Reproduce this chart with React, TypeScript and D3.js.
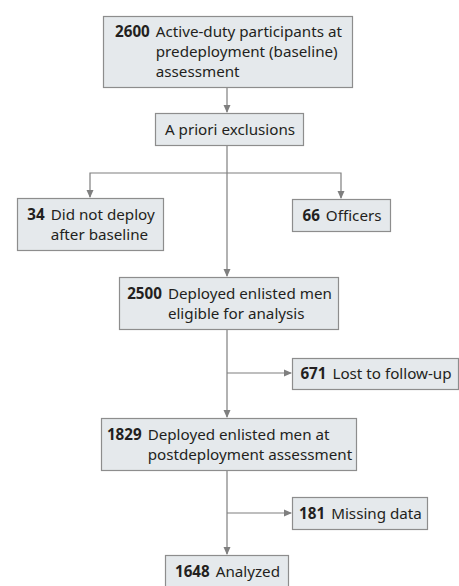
import React, { useEffect, useRef } from "react";
import * as d3 from "d3";

// ---- Data (flow counts and labels) ----
const nodeIds = ["baseline", "exclusions", "noDeploy", "officers", "eligible", "lost", "post", "missing", "analyzed"];
const nodeCounts: (number | null)[] = [2600, null, 34, 66, 2500, 671, 1829, 181, 1648];
const nodeLabels: string[][] = [
  ["Active-duty participants at", "predeployment (baseline)", "assessment"],
  ["A priori exclusions"],
  ["Did not deploy", "after baseline"],
  ["Officers"],
  ["Deployed enlisted men", "eligible for analysis"],
  ["Lost to follow-up"],
  ["Deployed enlisted men at", "postdeployment assessment"],
  ["Missing data"],
  ["Analyzed"],
];

// ---- Layout (positions / sizes) ----
const W = 459;
const H = 586;
const boxes: Record<string, { x: number; y: number; w: number; h: number }> = {
  baseline: { x: 103, y: 16, w: 249, h: 71 },
  exclusions: { x: 155, y: 113, w: 148, h: 32 },
  noDeploy: { x: 17, y: 198, w: 146, h: 52 },
  officers: { x: 292, y: 199, w: 98, h: 32 },
  eligible: { x: 119, y: 277, w: 219, h: 52 },
  lost: { x: 292, y: 358, w: 166, h: 31 },
  post: { x: 101, y: 418, w: 255, h: 52 },
  missing: { x: 292, y: 497, w: 135, h: 32 },
  analyzed: { x: 165, y: 555, w: 123, h: 32 },
};
const spineX = 227;
const branchY1 = 173;
const branchY2 = 373;
const branchY3 = 513;

const FILL = "#e5e9ec";
const STROKE = "#8d8d8d";
const LINE = "#7f7f7f";
const TEXT = "#231f20";
const FONT = "'Noto Sans', sans-serif";
const FS = 15.2;
const LH = 20;

export default function App() {
  const ref = useRef<SVGSVGElement | null>(null);

  useEffect(() => {
    const svg = d3.select(ref.current);
    svg.selectAll("*").remove();

    const lines = svg.append("g").attr("stroke", LINE).attr("stroke-width", 1.2).attr("fill", "none");
    const heads = svg.append("g").attr("fill", LINE);
    const arrowHead = (x: number, y: number, dir: "down" | "right") => {
      const L = 8, hw = 3.5;
      const pts =
        dir === "down"
          ? [[x, y], [x - hw, y - L], [x + hw, y - L]]
          : [[x, y], [x - L, y - hw], [x - L, y + hw]];
      heads.append("path").attr("d", d3.line()(pts as [number, number][]) + "Z");
    };
    const seg = (pts: [number, number][]) => lines.append("path").attr("d", d3.line()(pts));

    const b = boxes;
    const bottom = (k: string) => b[k].y + b[k].h;
    const cx = (k: string) => b[k].x + b[k].w / 2;

    // main spine
    seg([[spineX, bottom("baseline")], [spineX, b.exclusions.y - 1]]);
    arrowHead(spineX, b.exclusions.y, "down");
    seg([[spineX, bottom("exclusions")], [spineX, b.eligible.y - 1]]);
    arrowHead(spineX, b.eligible.y, "down");
    seg([[spineX, bottom("eligible")], [spineX, b.post.y - 1]]);
    arrowHead(spineX, b.post.y, "down");
    seg([[spineX, bottom("post")], [spineX, b.analyzed.y - 1]]);
    arrowHead(spineX, b.analyzed.y, "down");

    // exclusion branch
    seg([[cx("noDeploy"), b.noDeploy.y - 1], [cx("noDeploy"), branchY1], [cx("officers"), branchY1], [cx("officers"), b.officers.y - 1]]);
    arrowHead(cx("noDeploy"), b.noDeploy.y, "down");
    arrowHead(cx("officers"), b.officers.y, "down");

    // side branches
    seg([[spineX, branchY2], [b.lost.x - 1, branchY2]]);
    arrowHead(b.lost.x, branchY2, "right");
    seg([[spineX, branchY3], [b.missing.x - 1, branchY3]]);
    arrowHead(b.missing.x, branchY3, "right");

    // boxes
    nodeIds.forEach((id, i) => {
      const bx = b[id];
      const g = svg.append("g");
      g.append("rect")
        .attr("x", bx.x + 0.5)
        .attr("y", bx.y + 0.5)
        .attr("width", bx.w)
        .attr("height", bx.h)
        .attr("fill", FILL)
        .attr("stroke", STROKE)
        .attr("stroke-width", 1.2);

      const count = nodeCounts[i];
      const labs = nodeLabels[i];
      const n = labs.length;
      const cy = bx.y + bx.h / 2;
      const t = g.append("g").attr("font-family", FONT).attr("font-size", FS).attr("fill", TEXT);

      let numW = 0;
      let numNode: any = null;
      if (count !== null) {
        numNode = t.append("text").attr("font-weight", "bold").attr("y", cy - ((n - 1) / 2) * LH + 5.5).text(String(count));
        numW = (numNode.node() as SVGTextElement).getComputedTextLength();
      }
      const gap = count !== null ? 6 : 0;
      const labNodes = labs.map((s, j) =>
        t.append("text").attr("y", cy + (j - (n - 1) / 2) * LH + 5.5).text(s)
      );
      const maxW = d3.max(labNodes, (ln) => (ln.node() as SVGTextElement).getComputedTextLength()) || 0;
      const blockW = numW + gap + maxW;
      const x0 = bx.x + bx.w / 2 - blockW / 2 + 1;
      if (numNode) numNode.attr("x", x0);
      labNodes.forEach((ln) => ln.attr("x", x0 + numW + gap));
    });
  }, []);

  return (
    <svg
      ref={ref}
      width={W}
      height={H}
      viewBox={`0 0 ${W} ${H}`}
      style={{ position: "absolute", left: 0, top: 0, background: "#fff" }}
    />
  );
}
